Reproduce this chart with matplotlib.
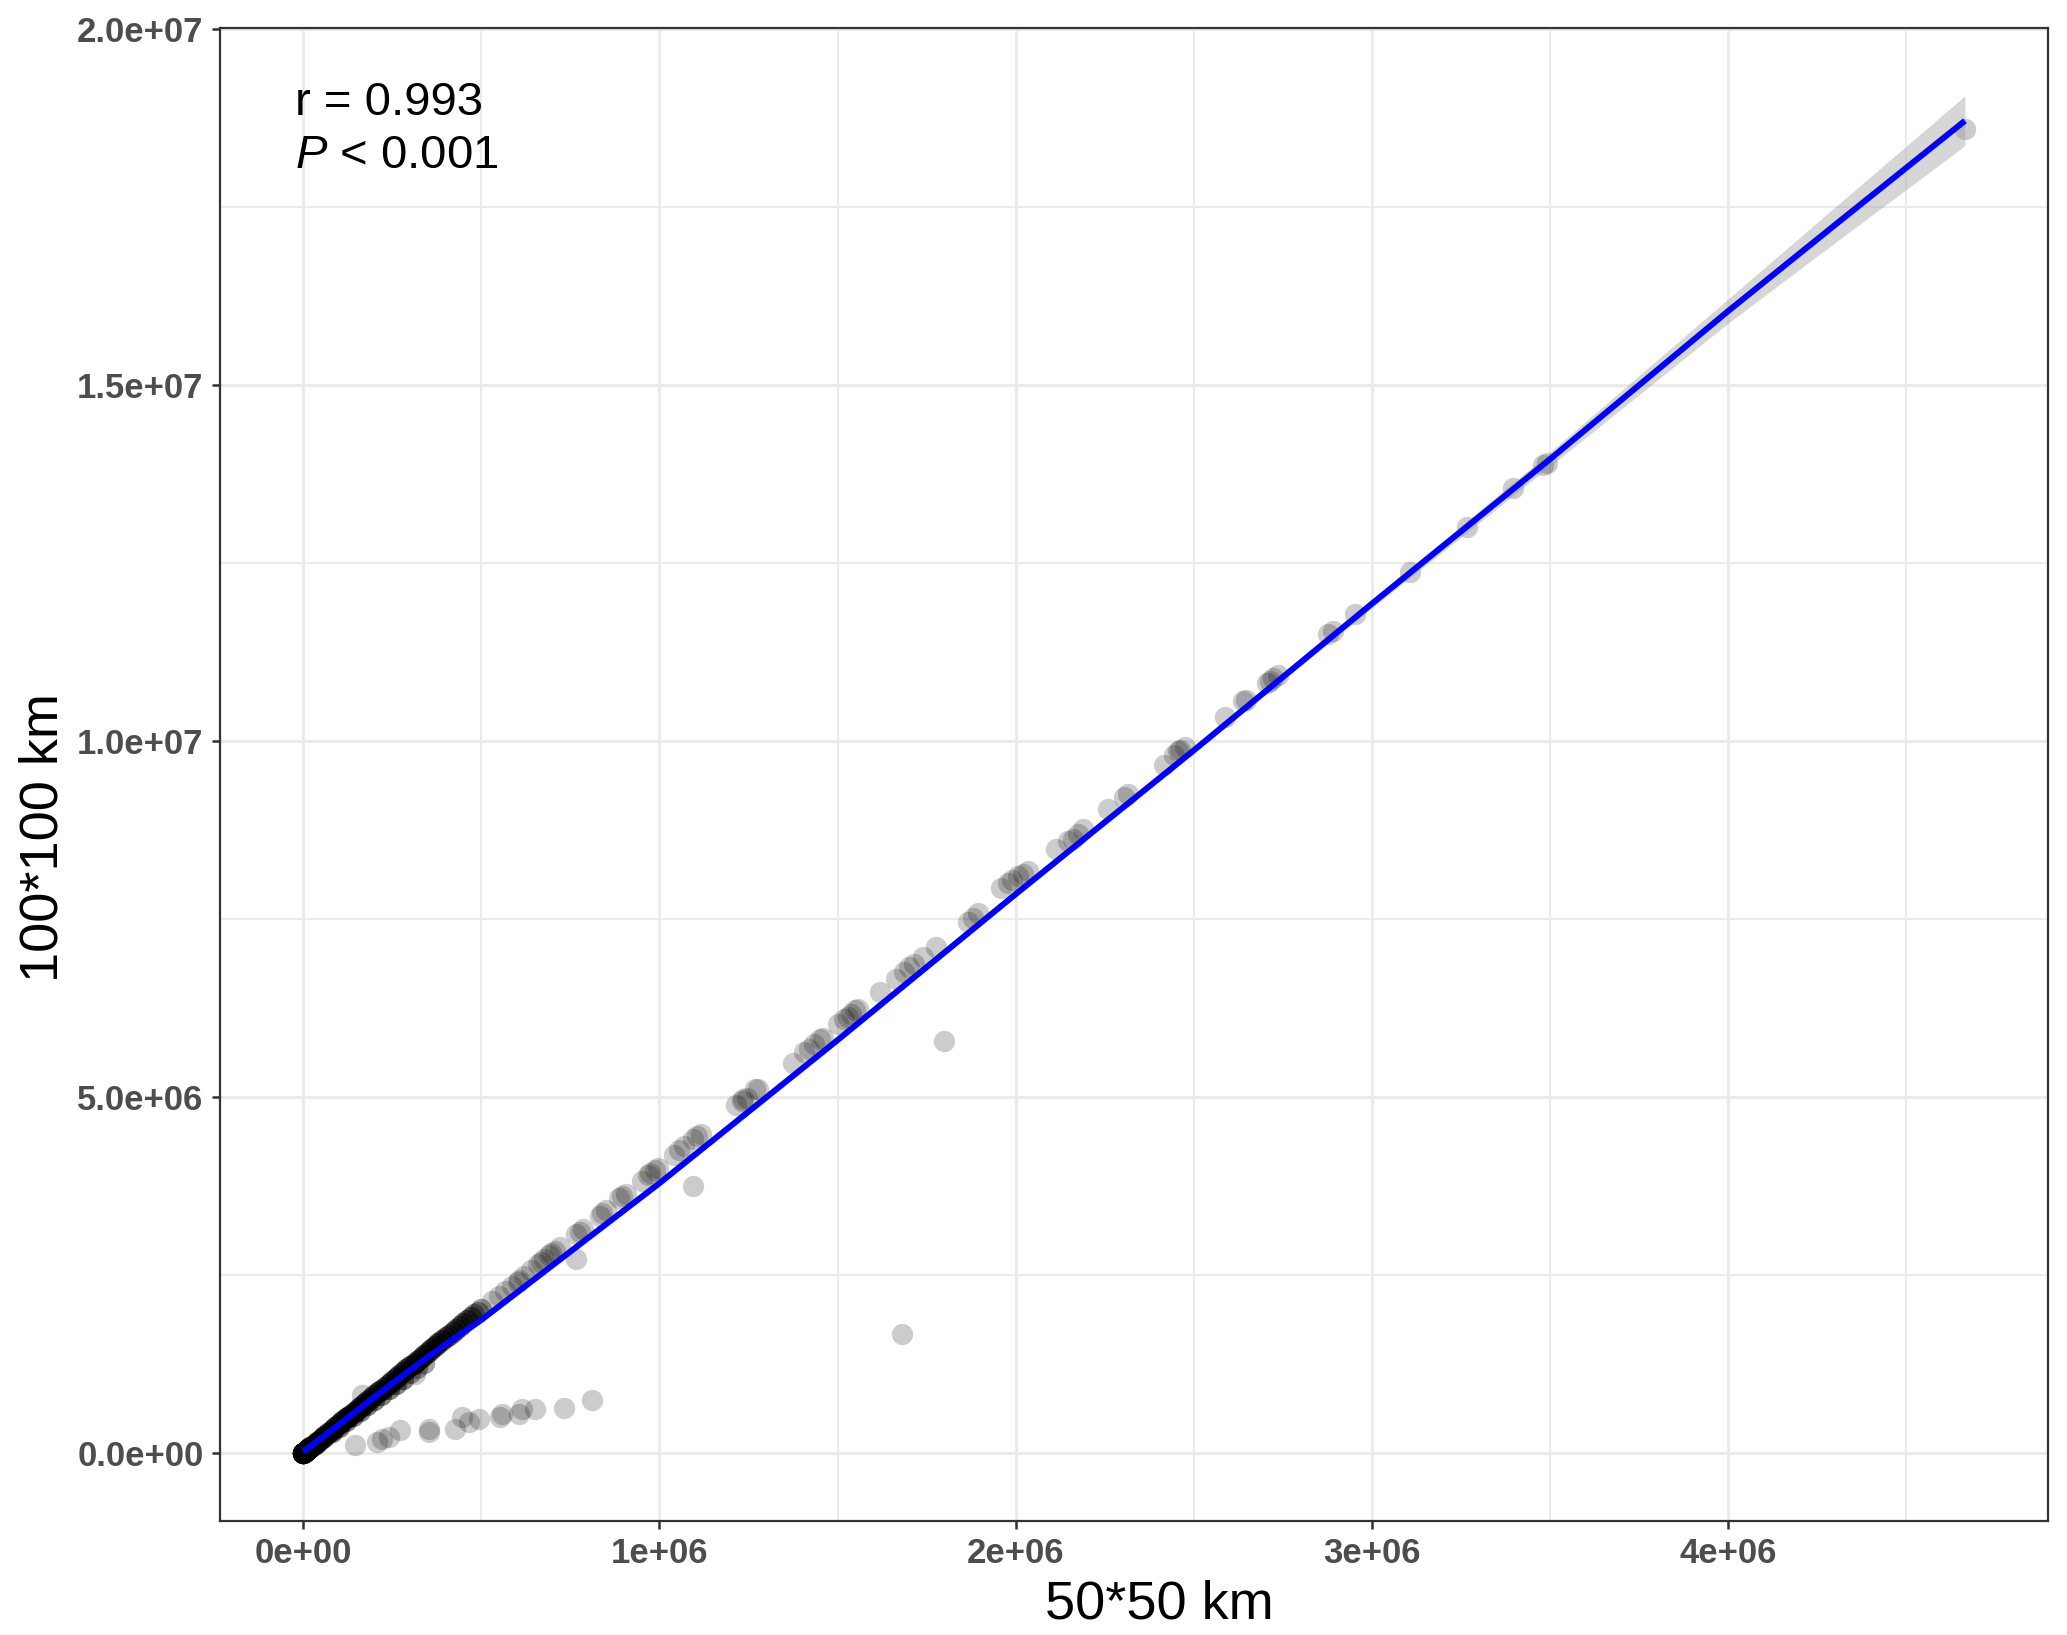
import numpy as np
import matplotlib
matplotlib.use("Agg")
import matplotlib.pyplot as plt
from matplotlib.ticker import FixedLocator, MultipleLocator

plt.rcParams["font.family"] = ["Liberation Sans", "DejaVu Sans"]
plt.rcParams["mathtext.fontset"] = "custom"
plt.rcParams["mathtext.rm"] = "Liberation Sans"
plt.rcParams["mathtext.it"] = "Liberation Sans:italic"

# ---------------------------------------------------------------------------
# Data (all values in units of 1e6)
# ---------------------------------------------------------------------------
# saturated cloud along the line near the origin: position + number of
# overlapping observations
dense_x = [0.000, 0.005, 0.010, 0.015, 0.020, 0.030, 0.040, 0.050, 0.060, 0.070,
           0.080, 0.090, 0.100, 0.110, 0.120, 0.130, 0.140, 0.150, 0.160, 0.170,
           0.180, 0.190, 0.200, 0.210, 0.220, 0.230, 0.240, 0.250, 0.260, 0.270,
           0.280, 0.290, 0.300, 0.310, 0.320, 0.330, 0.340, 0.350, 0.360, 0.370,
           0.380, 0.390, 0.400, 0.410, 0.420, 0.430, 0.440, 0.450, 0.460, 0.470,
           0.480, 0.490, 0.500]
dense_y = [0.000, 0.020, 0.040, 0.061, 0.081, 0.121, 0.162, 0.203, 0.243, 0.284,
           0.325, 0.366, 0.405, 0.447, 0.487, 0.528, 0.568, 0.610, 0.650, 0.690,
           0.732, 0.771, 0.812, 0.852, 0.893, 0.935, 0.973, 1.015, 1.055, 1.096,
           1.137, 1.176, 1.218, 1.258, 1.300, 1.338, 1.380, 1.420, 1.461, 1.502,
           1.541, 1.583, 1.625, 1.662, 1.705, 1.744, 1.786, 1.826, 1.866, 1.906,
           1.948, 1.987, 2.028]
dense_n = [30, 12, 10, 8, 8, 6, 6, 5, 5, 5,
           5, 5, 5, 5, 5, 5, 5, 5, 5, 5,
           4, 4, 4, 4, 4, 4, 4, 4, 4, 4,
           4, 4, 4, 4, 4, 4, 4, 4, 4, 4,
           4, 4, 3, 3, 3, 3, 3, 3, 3, 3,
           2, 2, 2]

# lower edge of the same cloud (slightly under the fitted line)
edge_x = [0.020, 0.040, 0.060, 0.080, 0.100, 0.120, 0.140, 0.160, 0.180, 0.200,
          0.220, 0.240, 0.260, 0.280, 0.300, 0.320, 0.340]
edge_y = [0.072, 0.148, 0.222, 0.298, 0.372, 0.448, 0.522, 0.598, 0.672, 0.748,
          0.822, 0.898, 0.972, 1.048, 1.122, 1.198, 1.272]
edge_n = [3, 3, 3, 3, 3, 3, 3, 3, 3, 3,
          3, 3, 3, 3, 2, 2, 2]

# individual points along the line
line_x = [0.530, 0.550, 0.566, 0.585, 0.602, 0.605, 0.620, 0.640, 0.660, 0.668,
          0.676, 0.690, 0.697, 0.708, 0.720, 0.767, 0.776, 0.785, 0.832, 0.838,
          0.850, 0.888, 0.895, 0.905, 0.950, 0.969, 0.975, 0.989, 0.997, 1.042,
          1.055, 1.070, 1.095, 1.106, 1.118, 1.215, 1.232, 1.235, 1.245, 1.269,
          1.277, 1.375, 1.406, 1.420, 1.434, 1.450, 1.459, 1.501, 1.518, 1.530,
          1.537, 1.550, 1.557, 1.620, 1.663, 1.686, 1.700, 1.714, 1.739, 1.776,
          1.865, 1.880, 1.893, 1.958, 1.978, 1.990, 2.006, 2.020, 2.034, 2.112,
          2.146, 2.160, 2.175, 2.190, 2.260, 2.305, 2.314, 2.415, 2.443, 2.455,
          2.462, 2.476, 2.588, 2.639, 2.645, 2.706, 2.715, 2.723, 2.737, 2.877,
          2.891, 2.952, 3.106, 3.266, 3.395, 3.480, 3.490, 4.664]
line_y = [2.13, 2.21, 2.27, 2.35, 2.41, 2.43, 2.49, 2.57, 2.65, 2.69,
          2.72, 2.78, 2.81, 2.84, 2.89, 3.08, 3.11, 3.15, 3.33, 3.37,
          3.41, 3.58, 3.61, 3.64, 3.82, 3.91, 3.93, 3.98, 4.01, 4.19,
          4.25, 4.31, 4.41, 4.45, 4.48, 4.89, 4.94, 4.97, 4.99, 5.12,
          5.12, 5.48, 5.64, 5.67, 5.75, 5.82, 5.83, 6.03, 6.09, 6.13,
          6.16, 6.22, 6.23, 6.48, 6.66, 6.76, 6.82, 6.87, 6.97, 7.11,
          7.46, 7.52, 7.58, 7.93, 8.00, 8.05, 8.10, 8.13, 8.17, 8.48,
          8.59, 8.63, 8.69, 8.77, 9.05, 9.22, 9.25, 9.67, 9.81, 9.86,
          9.88, 9.92, 10.34, 10.56, 10.58, 10.81, 10.85, 10.88, 10.93, 11.50,
          11.54, 11.79, 12.38, 13.01, 13.55, 13.88, 13.91, 18.59]

# points off the line (lower branch and isolated outliers)
off_x = [0.146, 0.207, 0.221, 0.241, 0.272, 0.353, 0.353, 0.426, 0.445, 0.465,
         0.493, 0.552, 0.557, 0.605, 0.613, 0.650, 0.731, 0.810,
         0.165, 0.314, 0.767, 1.095, 1.800, 1.680]
off_y = [0.11, 0.155, 0.20, 0.225, 0.32, 0.30, 0.34, 0.34, 0.51, 0.44,
         0.48, 0.51, 0.55, 0.55, 0.62, 0.62, 0.63, 0.74,
         0.815, 1.11, 2.72, 3.75, 5.79, 1.68]

# smoother and half-width of its confidence band
fit_x = [0.0, 0.1, 0.2, 0.3, 0.4, 0.5, 0.75, 1.0, 1.5, 2.0, 2.5, 3.0, 3.5, 4.0, 4.3, 4.664]
fit_y = [0.02, 0.40, 0.79, 1.17, 1.53, 1.87, 2.83, 3.79, 5.80, 7.85, 9.87, 11.93, 13.96, 16.04, 17.25, 18.71]
fit_se = [0.02, 0.02, 0.02, 0.02, 0.02, 0.02, 0.02, 0.02, 0.03, 0.03, 0.04, 0.06, 0.10, 0.17, 0.25, 0.35]

x_ticks = [0, 1, 2, 3, 4]
x_labels = ["0e+00", "1e+06", "2e+06", "3e+06", "4e+06"]
y_ticks = [0, 5, 10, 15, 20]
y_labels = ["0.0e+00", "5.0e+06", "1.0e+07", "1.5e+07", "2.0e+07"]

SCALE = 1e6

# ---------------------------------------------------------------------------
# Assemble
# ---------------------------------------------------------------------------
px = np.concatenate([np.repeat(dense_x, dense_n), np.repeat(edge_x, edge_n),
                     line_x, off_x]) * SCALE
py = np.concatenate([np.repeat(dense_y, dense_n), np.repeat(edge_y, edge_n),
                     line_y, off_y]) * SCALE
fx = np.array(fit_x) * SCALE
fy = np.array(fit_y) * SCALE
fse = np.array(fit_se) * SCALE

W, H = 2067, 1635
fig = plt.figure(figsize=(W / 100, H / 100), dpi=100)
ax = fig.add_axes([220 / W, 1 - 1521 / H, (2048 - 220) / W, (1521 - 28) / H])

ax.scatter(px, py, s=235, color="black", alpha=0.2, linewidths=0, zorder=2)
ax.fill_between(fx, fy - fse, fy + fse, color="#999999", alpha=0.4, linewidth=0, zorder=3)
ax.plot(fx, fy, color="#0000FF", lw=4.3, solid_capstyle="butt", zorder=4)

# ggplot-style 5% expansion
xlo, xhi = min(px.min(), fx.min()), max(px.max(), fx.max())
ylo, yhi = min(py.min(), (fy - fse).min()), max(py.max(), (fy + fse).max())
ax.set_xlim(xlo - 0.05 * (xhi - xlo), xhi + 0.05 * (xhi - xlo))
ax.set_ylim(ylo - 0.05 * (yhi - ylo), yhi + 0.05 * (yhi - ylo))

ax.xaxis.set_major_locator(FixedLocator(np.array(x_ticks) * SCALE))
ax.yaxis.set_major_locator(FixedLocator(np.array(y_ticks) * SCALE))
ax.set_xticklabels(x_labels)
ax.set_yticklabels(y_labels)
ax.xaxis.set_minor_locator(MultipleLocator(0.5 * SCALE))
ax.yaxis.set_minor_locator(MultipleLocator(2.5 * SCALE))

ax.grid(which="major", color="#EBEBEB", lw=2.2, zorder=0)
ax.grid(which="minor", color="#EBEBEB", lw=1.4, zorder=0)
ax.set_axisbelow(True)

for sp in ax.spines.values():
    sp.set_color("#333333")
    sp.set_linewidth(1.6)

ax.tick_params(which="major", length=5.8, width=1.8, color="#333333",
               labelsize=25, labelcolor="#4D4D4D", pad=6)
ax.tick_params(which="minor", length=0)
for lab in ax.get_xticklabels() + ax.get_yticklabels():
    lab.set_fontweight("bold")

fig.text(1159 / W, 1 - 1618 / H, "50*50 km", fontsize=39, ha="center", va="baseline")
fig.text(44 / W, 1 - 838 / H, "100*100 km", fontsize=39, rotation=90, ha="center", va="center")

ax.text(0.041, 0.9417, "r = 0.993", transform=ax.transAxes, fontsize=34, va="baseline")
ax.text(0.041, 0.9062, r"$P$ < 0.001", transform=ax.transAxes, fontsize=34, va="baseline")

fig.savefig("out.png", dpi=100)
